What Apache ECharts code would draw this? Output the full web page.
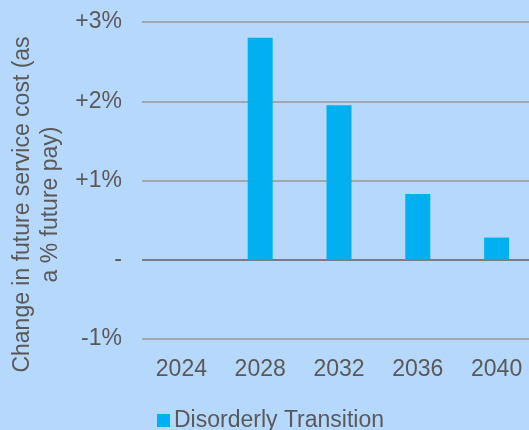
<!DOCTYPE html>
<html>
<head>
<meta charset="utf-8">
<script src="https://cdn.jsdelivr.net/npm/echarts@6/dist/echarts.min.js"></script>
<style>
  html, body { margin: 0; padding: 0; background: #b6d8fc; }
  #chart { width: 529px; height: 430px; }
</style>
</head>
<body>
<div id="chart"></div>
<script>
// 数据
const years = ['2024', '2028', '2032', '2036', '2040']
const disorderly = [0, 2.8, 1.95, 0.83, 0.28]
const yTickLabels = { '-1': '-1%', '0': '-', '1': '+1%', '2': '+2%', '3': '+3%' }

const chart = echarts.init(document.getElementById('chart'))
const font = "'Liberation Sans', Arial, sans-serif"

const option = {
  backgroundColor: '#b6d8fc',
  animation: false,
  textStyle: { fontFamily: font },
  grid: {
    left: 142,
    right: -7,
    top: 22,
    bottom: 91,
    containLabel: false,
    outerBoundsMode: 'none'
  },
  legend: {
    data: ['Disorderly Transition'],
    left: 152,
    bottom: -7,
    icon: 'rect',
    itemWidth: 13,
    itemHeight: 13,
    itemGap: 10,
    textStyle: { fontSize: 23, color: '#595959', fontFamily: font, padding: [0, 0, 0, -1] }
  },
  xAxis: {
    type: 'category',
    data: years,
    axisLine: { show: false },
    axisTick: { show: false },
    axisLabel: {
      margin: 19,
      fontSize: 23,
      color: '#595959',
      fontFamily: font
    }
  },
  yAxis: {
    type: 'value',
    min: -1,
    max: 3,
    interval: 1,
    name: 'Change in future service cost (as\na % future pay)',
    nameLocation: 'middle',
    nameGap: 76,
    nameTextStyle: {
      fontSize: 23,
      color: '#595959',
      lineHeight: 28,
      fontFamily: font,
      padding: [0, 48, 0, 0]
    },
    axisLine: { show: false },
    axisTick: { show: false },
    axisLabel: {
      margin: 20,
      fontSize: 23,
      color: '#595959',
      fontFamily: font,
      formatter: v => yTickLabels[String(v)]
    },
    splitLine: {
      lineStyle: {
        color: ['#979797', '#5f5f5f', '#979797', '#979797', '#979797'],
        width: 1.5
      }
    }
  },
  series: [
    {
      name: 'Disorderly Transition',
      type: 'bar',
      data: disorderly,
      barWidth: 25,
      itemStyle: {
        color: '#00b0f0'
      }
    }
  ]
}

chart.setOption(option)
</script>
</body>
</html>
